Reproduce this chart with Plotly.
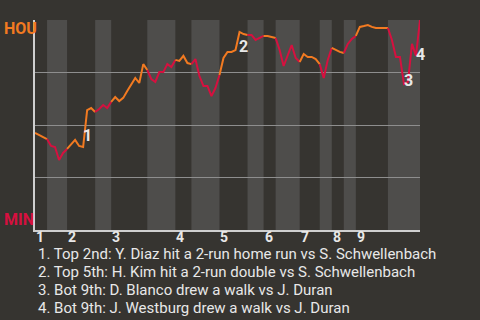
import plotly.graph_objects as go

# Win probability for HOU (%), one value per play
wp = [46.2, 45.2, 44.3, 43.3, 40.0, 39.5, 33.3, 36.7, 38.6, 40.5,
      42.9, 40.0, 39.5, 57.1, 58.1, 56.2, 57.6, 59.5, 58.1, 61.0,
      63.3, 61.4, 62.9, 66.2, 69.5, 72.4, 70.0, 79.0, 76.2, 71.9,
      70.5, 75.2, 75.2, 79.0, 77.6, 81.0, 80.5, 82.9, 79.5, 79.0,
      81.4, 73.3, 68.6, 68.6, 63.8, 67.6, 73.8, 81.9, 84.8, 84.8,
      85.7, 94.3, 93.3, 92.9, 92.9, 90.5, 91.4, 92.4, 92.4, 91.9,
      91.4, 85.7, 78.1, 83.3, 88.1, 81.9, 80.0, 83.8, 82.4, 82.4,
      81.4, 79.0, 72.4, 81.0, 86.7, 85.7, 84.8, 84.3, 88.6, 91.0,
      92.4, 96.7, 97.1, 97.6, 96.7, 96.2, 96.2, 96.2, 96.2, 90.5,
      82.4, 82.4, 69.5, 70.5, 88.6, 82.9, 100.0]
plays = list(range(len(wp)))

# Play index where each half-inning starts (top 1st, bot 1st, ...), plus end
half_starts = [0, 3, 8, 15, 19, 28, 35, 39, 46, 53, 57, 60, 66, 71, 74, 77, 80, 88, 96]
innings = ["1", "2", "3", "4", "5", "6", "7", "8", "9"]

# Key plays (label, play index position, win prob position)
key_labels = ["1", "2", "3", "4"]
key_x = [13.0, 52.1, 93.1, 96.0]
key_y = [45.2, 87.2, 71.4, 83.8]

notes = [
    "1. Top 2nd: Y. Diaz hit a 2-run home run vs S. Schwellenbach",
    "2. Top 5th: H. Kim hit a 2-run double vs S. Schwellenbach",
    "3. Bot 9th: D. Blanco drew a walk vs J. Duran",
    "4. Bot 9th: J. Westburg drew a walk vs J. Duran",
]

BG = "#363430"
BAND = "#4e4d4b"
ORANGE = "#f27a21"
RED = "#d6103f"
TXT = "#e8e8e8"

fig = go.Figure()

shapes = []
for k in range(1, len(half_starts) - 1, 2):
    shapes.append(dict(type="rect", xref="x", yref="y", layer="below",
                       x0=half_starts[k], x1=half_starts[k + 1], y0=0, y1=100,
                       fillcolor=BAND, line=dict(width=0)))

for k in range(len(half_starts) - 1):
    s, e = half_starts[k], half_starts[k + 1]
    fig.add_trace(go.Scatter(
        x=plays[s:e + 1], y=wp[s:e + 1], mode="lines",
        line=dict(color=ORANGE if k % 2 == 0 else RED, width=2),
        hoverinfo="skip", showlegend=False))

annotations = []
for lab, xx, yy in zip(key_labels, key_x, key_y):
    annotations.append(dict(x=xx, y=yy, xref="x", yref="y", text="<b>%s</b>" % lab,
                            showarrow=False, font=dict(size=16, color=TXT, family="Roboto"),
                            xanchor="center", yanchor="middle", borderpad=0))

for k, lab in enumerate(innings):
    annotations.append(dict(x=half_starts[2 * k], y=0, xref="x", yref="paper",
                            text="<b>%s</b>" % lab, showarrow=False,
                            xanchor="left", yanchor="middle", yshift=-7, borderpad=0,
                            font=dict(size=14, color=TXT, family="Roboto")))

annotations.append(dict(x=-0.083, y=96.7, xref="paper", yref="y", text="<b>HOU</b>",
                        showarrow=False, xanchor="left", yanchor="middle", borderpad=0,
                        yshift=-2, font=dict(size=16, color=ORANGE, family="Roboto")))
annotations.append(dict(x=-0.083, y=5.7, xref="paper", yref="y", text="<b>MIN</b>",
                        showarrow=False, xanchor="left", yanchor="middle", borderpad=0,
                        yshift=-1, font=dict(size=16, color=RED, family="Roboto")))

for j, line in enumerate(notes):
    annotations.append(dict(x=0.005, y=-0.1143 - j * 0.0857, xref="paper", yref="paper",
                            text=line, showarrow=False, align="left",
                            xanchor="left", yanchor="middle", borderpad=0,
                            font=dict(size=15, color=TXT, family="Roboto")))

fig.update_layout(
    width=480, height=320,
    margin=dict(l=35, r=60, t=20, b=90),
    paper_bgcolor=BG, plot_bgcolor=BG,
    shapes=shapes, annotations=annotations,
    xaxis=dict(range=[0, 96], showgrid=False, zeroline=False, showticklabels=False,
               ticks="", showline=True, linecolor="#cfcfcf", linewidth=1.5, fixedrange=True),
    yaxis=dict(range=[0, 100], tickvals=[25, 50, 75, 100], showgrid=True,
               gridcolor="#8e8e8e", gridwidth=1, zeroline=False, showticklabels=False,
               ticks="", showline=True, linecolor="#cfcfcf", linewidth=1.5, fixedrange=True),
)

fig.write_html("out.html")
